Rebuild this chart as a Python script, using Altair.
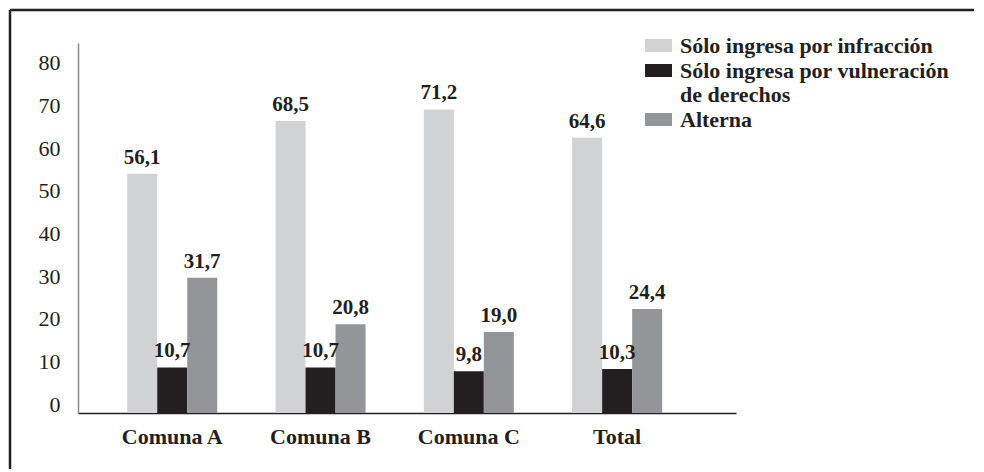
import altair as alt
import pandas as pd

categories = ["Comuna A", "Comuna B", "Comuna C", "Total"]
series = ["Sólo ingresa por infracción",
          "Sólo ingresa por vulneración de derechos",
          "Alterna"]
infraccion = [56.1, 68.5, 71.2, 64.6]
vulneracion = [10.7, 10.7, 9.8, 10.3]
alterna = [31.7, 20.8, 19.0, 24.4]
y_ticks = [0, 10, 20, 30, 40, 50, 60, 70, 80]
colors = ["#d1d2d4", "#231f20", "#939598"]

rows = []
for s, vals in zip(series, [infraccion, vulneracion, alterna]):
    for c, v in zip(categories, vals):
        rows.append({"cat": c, "serie": s, "valor": v,
                     "etiqueta": f"{v:.1f}".replace(".", ",")})
df = pd.DataFrame(rows)

FONT = "Liberation Serif"
DARK = "#231f20"

x_enc = alt.X("cat:N", sort=categories, title=None,
              scale=alt.Scale(paddingInner=0.393, paddingOuter=0.415, align=0.4),
              axis=alt.Axis(labelAngle=0, ticks=False, domainColor=DARK,
                            domainWidth=1.5, labelFont=FONT, labelFontSize=22,
                            labelFontWeight="bold", labelColor=DARK,
                            labelBaseline="alphabetic", labelPadding=30))
xo_enc = alt.XOffset("serie:N", sort=series,
                     scale=alt.Scale(paddingInner=0, paddingOuter=0))
y_enc = alt.Y("valor:Q", title=None,
              scale=alt.Scale(domain=[0, 86.8], nice=False),
              axis=alt.Axis(values=y_ticks, grid=False, ticks=False,
                            domainColor="#8a8a8a", domainWidth=1.5,
                            labelFont=FONT, labelFontSize=22, labelColor=DARK,
                            labelBaseline="alphabetic", labelPadding=18,
                            labelOffset=-2))

base = alt.Chart(df)

bars = base.mark_bar().encode(
    x=x_enc, xOffset=xo_enc, y=y_enc,
    color=alt.Color("serie:N", sort=series,
                    scale=alt.Scale(domain=series, range=colors),
                    legend=alt.Legend(
                        title=None, orient="none", legendX=567, legendY=-11,
                        labelFont=FONT, labelFontSize=22, labelFontWeight="bold",
                        labelColor=DARK, labelOffset=8, rowPadding=-2,
                        symbolType="M-1,-0.48H1V0.48H-1Z", symbolSize=729,
                        symbolStrokeWidth=0, symbolOpacity=1,
                        labelLimit=400,
                        labelExpr="datum.label == 'Sólo ingresa por vulneración de derechos' ? ['Sólo ingresa por vulneración', 'de derechos'] : datum.label")),
)

labels = base.mark_text(font=FONT, fontSize=21, fontWeight="bold", color=DARK,
                        baseline="alphabetic", dy=-10).encode(
    x=x_enc, xOffset=xo_enc, y=y_enc, text="etiqueta:N")

one = pd.DataFrame({"k": [0]})
frame_top = alt.Chart(one).mark_rule(stroke=DARK, strokeWidth=2.5).encode(
    x=alt.value(-68), x2=alt.value(896), y=alt.value(-33))
frame_left = alt.Chart(one).mark_rule(stroke=DARK, strokeWidth=2.5).encode(
    x=alt.value(-68), y=alt.value(-33), y2=alt.value(426))

chart = alt.layer(frame_top, frame_left, bars, labels).properties(
    width=658, height=370, padding=0, background="white"
).configure_view(stroke=None)

chart.save("out.html", embed_options={"renderer": "svg", "actions": False})
